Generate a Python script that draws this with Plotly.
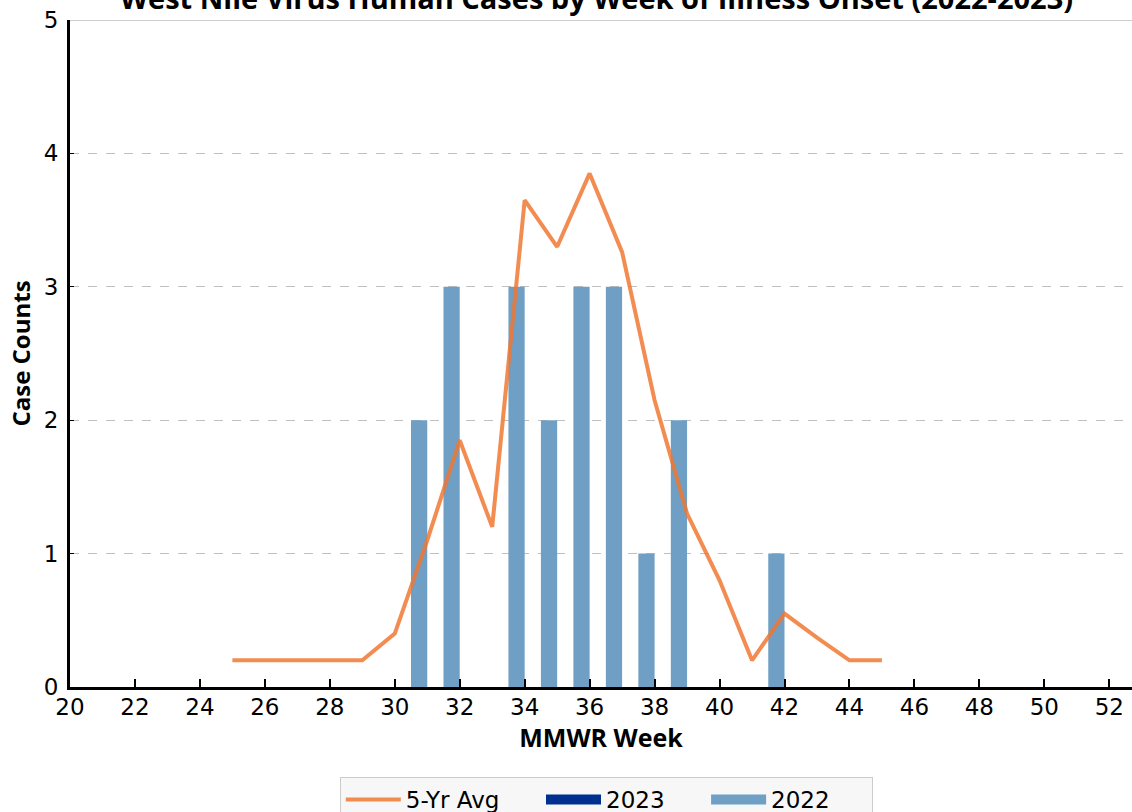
import plotly.graph_objects as go

# Data
weeks_avg = [25, 26, 27, 28, 29, 30, 31, 32, 33, 34, 35, 36, 37, 38, 39, 40, 41, 42, 43, 44, 45]
avg_5yr = [0.2, 0.2, 0.2, 0.2, 0.2, 0.4, 1.1, 1.85, 1.2, 3.65, 3.3, 3.85, 3.26, 2.15, 1.3, 0.8, 0.2, 0.55, 0.37, 0.2, 0.2]

weeks_2022 = [31, 32, 34, 35, 36, 37, 38, 39, 42]
cases_2022 = [2, 3, 3, 2, 3, 3, 1, 2, 1]

weeks_2023 = [31, 32, 33, 34, 35, 36, 37, 38, 39, 40, 41, 42]
cases_2023 = [0, 0, 0, 0, 0, 0, 0, 0, 0, 0, 0, 0]

x_ticks = list(range(20, 53, 2))
y_ticks = [0, 1, 2, 3, 4, 5]
x_range = [20, 52.7]
y_range = [0, 5]

title_text = "<b>West Nile Virus Human Cases by Week of Illness Onset (2022-2023)</b>"
pad = "\u00a0" * 5

c_avg = "rgb(240,120,51)"
c_2023 = "#00308F"
c_2022 = "#6F9FC4"

fig = go.Figure()
fig.add_trace(go.Scatter(
    x=weeks_avg, y=avg_5yr, mode="lines", name="5-Yr Avg" + pad,
    line=dict(color=c_avg, width=4), opacity=0.85, legendrank=1,
))
fig.add_trace(go.Bar(
    x=weeks_2023, y=cases_2023, name="2023",
    marker=dict(color=c_2023, line=dict(width=0)),
    offset=0, width=0.5, showlegend=False, legendgroup="2023",
))
fig.add_trace(go.Bar(
    x=weeks_2022, y=cases_2022, name="2022",
    marker=dict(color=c_2022, line=dict(width=0)),
    offset=-0.5, width=0.5, showlegend=False, legendgroup="2022",
))
# legend swatches drawn as wide rectangles (no data points)
fig.add_trace(go.Scatter(
    x=[None], y=[None], mode="lines", name="2023" + pad,
    line=dict(color=c_2023, width=18), legendgroup="2023", legendrank=2,
))
fig.add_trace(go.Scatter(
    x=[None], y=[None], mode="lines", name="2022" + pad,
    line=dict(color=c_2022, width=18), legendgroup="2022", legendrank=3,
))

# light top border line
fig.add_shape(type="line", xref="paper", yref="y", x0=0, x1=1, y0=y_range[1], y1=y_range[1],
              line=dict(color="#bdbdbd", width=1.5), layer="below")

# title placed partly above the top edge, as in the reference
fig.add_annotation(
    text=title_text, xref="paper", yref="paper", x=0.496, y=1.034,
    xanchor="center", yanchor="middle", showarrow=False,
    font=dict(family="Open Sans", size=29, color="black"),
)

fig.update_layout(
    width=1132, height=812,
    margin=dict(l=70, r=0, t=20, b=125, autoexpand=False),
    paper_bgcolor="white", plot_bgcolor="white",
    barmode="overlay",
    font=dict(family="DejaVu Sans", color="black"),
    xaxis=dict(
        range=x_range, tickmode="array", tickvals=x_ticks, automargin=False,
        ticks="inside", ticklen=8, tickwidth=1.5, tickcolor="black",
        showline=True, linecolor="black", linewidth=3,
        showgrid=False, zeroline=False, ticklabelstandoff=-3,
        tickfont=dict(family="DejaVu Sans", size=23, color="black"),
        title=dict(text="<b>MMWR Week</b>", font=dict(family="Open Sans", size=25, color="black"), standoff=6),
    ),
    yaxis=dict(
        range=y_range, tickmode="array", tickvals=y_ticks, automargin=False,
        ticks="inside", ticklen=4, tickcolor="black",
        showline=True, linecolor="black", linewidth=3,
        showgrid=True, gridcolor="#c0c0c0", griddash="dash", gridwidth=1,
        zeroline=False, ticklabelstandoff=4,
        tickfont=dict(family="DejaVu Sans", size=23, color="black"),
        title=dict(text="<b>Case Counts</b>", font=dict(family="Open Sans", size=24, color="black"), standoff=7),
    ),
    legend=dict(
        orientation="h", x=0.505, xanchor="center", y=-0.135, yanchor="top",
        bgcolor="#f7f7f7", bordercolor="#cccccc", borderwidth=1,
        font=dict(family="DejaVu Sans", size=23, color="black"),
        traceorder="normal", itemwidth=55,
    ),
)

fig.write_html("out.html", config={"displayModeBar": False},
               post_script="document.body.style.margin='0px';")
